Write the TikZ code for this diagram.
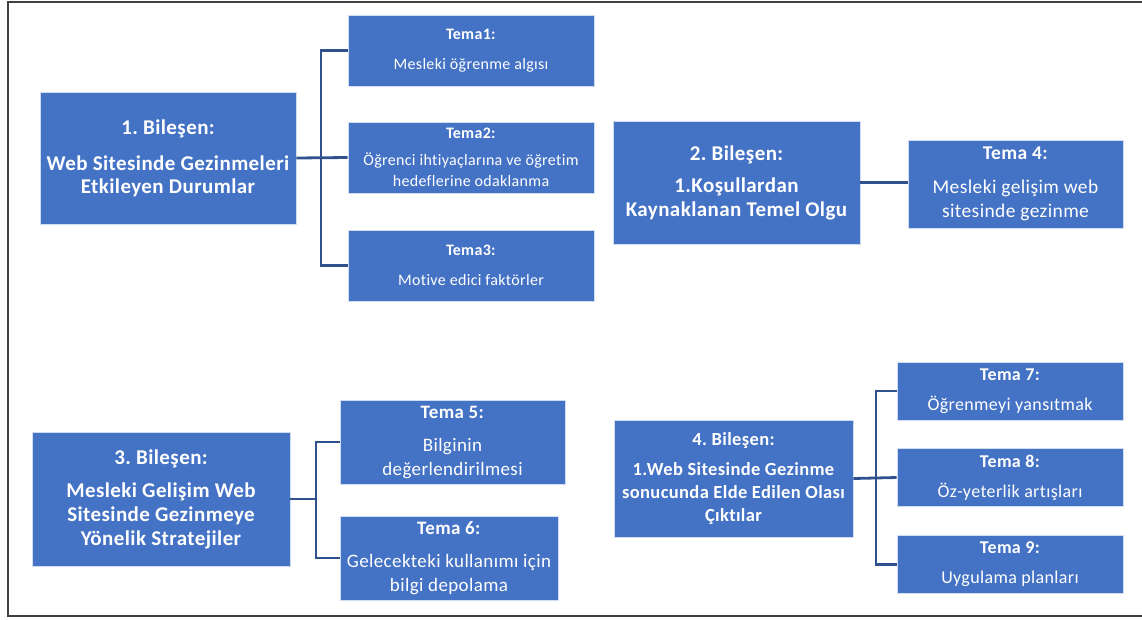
\documentclass[tikz,border=0pt]{standalone}
\usepackage{fontspec}
\setmainfont{Carlito}[LetterSpace=2, Ligatures=NoCommon]
\usetikzlibrary{calc}
\definecolor{boxblue}{HTML}{4472C4}
\definecolor{linkblue}{HTML}{2F528F}
\frenchspacing

\begin{document}
\begin{tikzpicture}[x=1pt, y=-1pt,
  box/.style={fill=boxblue, draw=white!75!boxblue, line width=.8, text=white, align=center, inner sep=1},
  link/.style={draw=linkblue, line width=2.8}]
\useasboundingbox (0,0) rectangle (1142,619);
% frame
\draw[black!75, line width=1.6] (1142,2) -- (8,2) -- (8,616) -- (1142,616);

% 1. component
\node[box, minimum width=256, minimum height=132, font=\fontsize{21}{23}\selectfont\bfseries] (b1) at (168,158)
  {1. Bileşen:\\[13pt] Web Sitesinde Gezinmeleri\\ Etkileyen Durumlar};
\node[box, minimum width=246, minimum height=71, font=\fontsize{16}{21}\selectfont] (t1) at (471,50.5)
  {\textbf{Tema1:}\\[9pt] Mesleki öğrenme algısı};
\node[box, minimum width=246, minimum height=71, font=\fontsize{16}{21}\selectfont] (t2) at (471,157.5)
  {\textbf{Tema2:}\\[6pt] Öğrenci ihtiyaçlarına ve öğretim\\ hedeflerine odaklanma};
\node[box, minimum width=246, minimum height=71, font=\fontsize{16}{21}\selectfont] (t3) at (471,265.5)
  {\textbf{Tema3:}\\[9pt] Motive edici faktörler};
\coordinate (k1) at (321,158);
\draw[link] (b1.east) -- (t2.west);
\draw[link] (t1.west) -| (k1 |- t3.west) -- (t3.west);

% 2. component
\node[box, minimum width=247, minimum height=123, font=\fontsize{21}{24}\selectfont\bfseries] (b2) at (736.5,182.5)
  {2. Bileşen:\\[8pt] 1.Koşullardan\\ Kaynaklanan Temel Olgu};
\node[box, minimum width=215, minimum height=88, font=\fontsize{19.5}{24}\selectfont] (t4) at (1015.5,184)
  {\textbf{Tema 4:}\\[10pt] Mesleki gelişim web\\ sitesinde gezinme};
\draw[link] (b2.east) -- (t4.west |- b2.east);

% 3. component
\node[box, minimum width=258, minimum height=134, font=\fontsize{21}{24}\selectfont\bfseries] (b3) at (161,499)
  {3. Bileşen:\\[9pt] Mesleki Gelişim Web\\ Sitesinde Gezinmeye\\ Yönelik Stratejiler};
\node[box, minimum width=225, minimum height=84, font=\fontsize{19}{24}\selectfont] (t5) at (452.5,442)
  {\textbf{Tema 5:}\\[9pt] Bilginin\\ değerlendirilmesi};
\node[box, minimum width=218, minimum height=84, font=\fontsize{19}{24}\selectfont] (t6) at (449,558)
  {\textbf{Tema 6:}\\[9pt] Gelecekteki kullanımı için\\ bilgi depolama};
\coordinate (k3) at (316,499);
\draw[link] (b3.east) -- (k3);
\draw[link] (t5.west) -| (k3 |- t6.west) -- (t6.west);

% 4. component
\node[box, minimum width=239, minimum height=117, font=\fontsize{18.5}{23}\selectfont\bfseries] (b4) at (733.5,478.5)
  {4. Bileşen:\\[7pt] 1.Web Sitesinde Gezinme\\ sonucunda Elde Edilen Olası\\ Çıktılar};
\node[box, minimum width=226, minimum height=58, font=\fontsize{18}{22}\selectfont] (t7) at (1010,391)
  {\textbf{Tema 7:}\\[8pt] Öğrenmeyi yansıtmak};
\node[box, minimum width=226, minimum height=58, font=\fontsize{18}{22}\selectfont] (t8) at (1010,477.5)
  {\textbf{Tema 8:}\\[8pt] Öz-yeterlik artışları};
\node[box, minimum width=226, minimum height=58, font=\fontsize{18}{22}\selectfont] (t9) at (1010,564.5)
  {\textbf{Tema 9:}\\[8pt] Uygulama planları};
\coordinate (k4) at (876,478);
\draw[link] (b4.east) -- (t8.west);
\draw[link] (t7.west) -| (k4 |- t9.west) -- (t9.west);
\end{tikzpicture}
\end{document}
